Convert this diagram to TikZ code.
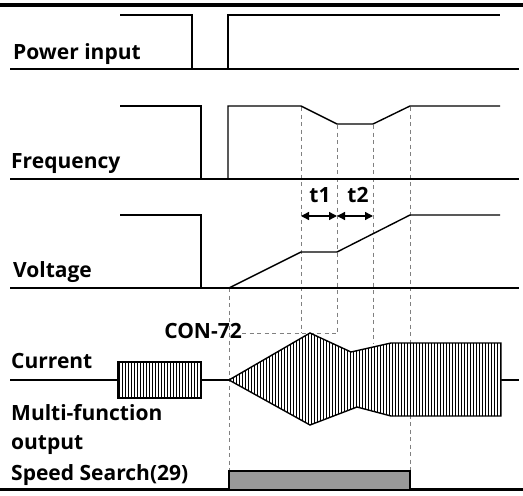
\documentclass[tikz,border=0pt]{standalone}
\usepackage{fontspec}
\setmainfont{Open Sans}
\usetikzlibrary{arrows.meta}
\begin{document}
\begin{tikzpicture}[x=1pt,y=-1pt,
  lab/.style={font=\fontsize{21}{25}\selectfont\bfseries, inner sep=0pt, anchor=base west},
  sig/.style={line width=1.4pt, line join=miter},
  base/.style={line width=2pt},
  guide/.style={draw=black!50, line width=1pt, dash pattern=on 4pt off 3.5pt},
  dim/.style={line width=1.4pt, {Triangle[length=8pt,width=8pt]}-{Triangle[length=8pt,width=8pt]}},
  hatch/.style={line width=0.9pt}]
\useasboundingbox (0,0) rectangle (523,496);
% frame lines
\draw[line width=4pt] (0,5) -- (523,5);
\draw[line width=3pt] (0,489.5) -- (523,489.5);
% labels
\node[lab] (lpow) at (13,59) {Power input};
\node[lab] (lfreq) at (11,168) {Frequency};
\node[lab] (lvolt) at (13,277) {Voltage};
\node[lab] (lcur) at (11,368) {Current};
\node[lab] (lmf) at (11,420) {Multi-function};
\node[lab] (lout) at (11,449) {output};
\node[lab] (lss) at (11,480) {Speed Search(29)};
\node[lab, anchor=base east] (lcon) at (242,338) {CON-72};
\node[lab, anchor=base] (lt1) at (320,202) {t1};
\node[lab, anchor=base] (lt2) at (358,202) {t2};
% guides
\draw[guide] (229,288) -- (229,471);
\draw[guide] (301,107) -- (301,333);
\draw[guide] (337,125) -- (337,333);
\draw[guide] (373,125) -- (373,343);
\draw[guide] (410,107) -- (410,471);
\draw[guide] (lcon.east |- 0,333) -- (337,333);
% power input
\draw[base] (10,69) -- (519,69);
\draw[sig] (120,15) -- (192,15) -- (192,69);
\draw[sig] (228,69) -- (228,15) -- (500,15);
% frequency
\draw[base] (10,179) -- (519,179);
\draw[sig] (120,106) -- (201,106) -- (201,179);
\draw[sig] (228,179) -- (228,106) -- (301,106) -- (337,124) -- (373,124) -- (410,106) -- (500,106);
% voltage
\draw[base] (10,288) -- (519,288);
\draw[sig] (120,215) -- (201,215) -- (201,288);
\draw[sig] (229,288) -- (301,252) -- (337,252) -- (410,215) -- (500,215);
% dimension arrows
\coordinate (a1) at (301,216);
\coordinate (a2) at (337,216);
\coordinate (a3) at (373,216);
\draw[dim] (a1) -- (a2);
\draw[dim] (a2) -- (a3);
% current
\draw[base] (10,380) -- (519,380);
\begin{scope}
  \path[fill=white] (118,362) rectangle (201,398);
  \clip (118,362) rectangle (201,398);
  \foreach \x in {119.5,122.5,...,201} \draw[hatch] (\x,360) -- (\x,400);
\end{scope}
\draw[sig] (118,362) rectangle (201,398);
\def\curshape{(229,380) -- (310,333) -- (351,352) -- (391,343) -- (501,343) -- (501,416) -- (391,416) -- (357,407) -- (310,425) -- cycle}
\begin{scope}
  \path[fill=white] \curshape;
  \clip \curshape;
  \foreach \x in {230.5,233.5,...,502} \draw[hatch] (\x,330) -- (\x,430);
\end{scope}
\draw[sig] \curshape;
% speed search output
\draw[sig, fill=black!40] (229,489) -- (229,471) -- (410,471) -- (410,489);
\end{tikzpicture}
\end{document}
